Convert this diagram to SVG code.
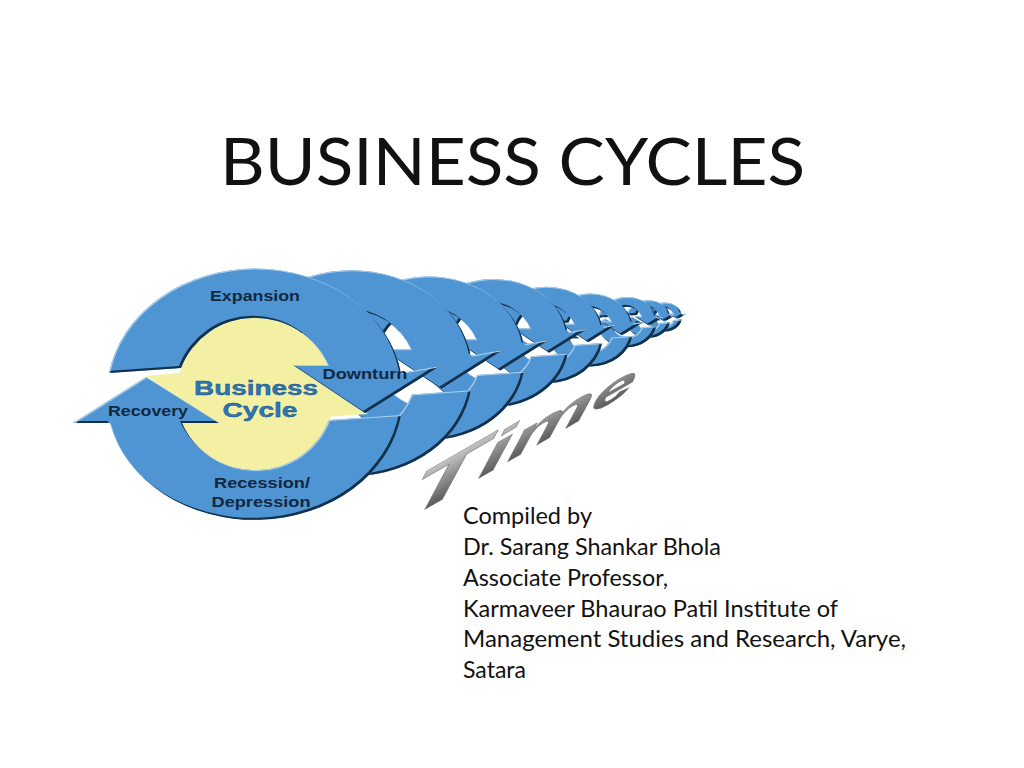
<svg xmlns="http://www.w3.org/2000/svg" width="1024" height="768" viewBox="0 0 1024 768">
<style>
.lb{font-family:"Liberation Sans",Arial,sans-serif;font-weight:700;fill:#12283f;font-size:15px;text-anchor:middle}
.bc{font-family:"Liberation Sans",Arial,sans-serif;font-weight:700;fill:#2b76b8;font-size:20px;text-anchor:middle;stroke:#1c4f80;stroke-width:.4px}
.body{font-family:Lato,"Liberation Sans",sans-serif;font-size:23.5px;fill:#111}
.arrow{fill:#4f95d3}
</style>
<defs>
<linearGradient id="g" x1="0" y1="0" x2="0" y2="1"><stop offset="0" stop-color="#e6e6e6"/><stop offset=".5" stop-color="#8d8d8d"/><stop offset="1" stop-color="#3d3d3d"/></linearGradient>
<filter id="bev" x="-5%" y="-5%" width="110%" height="110%" color-interpolation-filters="sRGB">
<feOffset in="SourceAlpha" dx="-1.8" dy="-1.8" result="o1"/>
<feComposite in="SourceAlpha" in2="o1" operator="out" result="e1"/>
<feFlood flood-color="#12304a"/><feComposite in2="e1" operator="in" result="dark"/>
<feOffset in="SourceAlpha" dx="1.3" dy="1.3" result="o2"/>
<feComposite in="SourceAlpha" in2="o2" operator="out" result="e2"/>
<feFlood flood-color="#a9cdea"/><feComposite in2="e2" operator="in" result="light"/>
<feMerge result="m"><feMergeNode in="SourceGraphic"/><feMergeNode in="dark"/><feMergeNode in="light"/></feMerge>
<feGaussianBlur in="m" stdDeviation=".5"/>
</filter>
<g id="arrows">
<path class="arrow" d="M109 373 A148 125 0 0 1 401 373 L440 366 L365 413 L293 365 L328 365 A79 77 0 0 0 181 368 Z"/>
<path class="arrow" d="M401 415 A148 123 0 0 1 110 423 L73 423 L146 377 L219 423 L182 423 A79 77 0 0 0 329 420 Z"/>
</g>
</defs>
<rect width="1024" height="768" fill="#fff"/>
<text id="title" x="220" y="185" textLength="585" lengthAdjust="spacingAndGlyphs" font-family="Lato,'Liberation Sans',sans-serif" font-size="66" fill="#111">BUSINESS CYCLES</text>

<g id="time-trail">
<g filter="url(#bev)"><use href="#arrows" transform="translate(635.1 271.3) scale(.116)"/></g>
<g filter="url(#bev)"><use href="#arrows" transform="translate(609.8 259.9) scale(.15)"/></g>
<g filter="url(#bev)"><use href="#arrows" transform="translate(576 243.2) scale(.2)"/></g>
<g filter="url(#bev)"><use href="#arrows" transform="translate(516 215.7) scale(.29)"/></g>
<g filter="url(#bev)"><use href="#arrows" transform="translate(447.8 183.3) scale(.385)"/></g>
<g filter="url(#bev)"><use href="#arrows" transform="translate(363 142) scale(.51)"/></g>
<g filter="url(#bev)"><use href="#arrows" transform="translate(263 102) scale(.65)"/></g>
<g filter="url(#bev)"><use href="#arrows" transform="translate(142 50) scale(.82)"/></g>
</g>

<g id="business-cycle">
<ellipse cx="255" cy="395" rx="79" ry="77" fill="#f3efa3"/>
<polygon points="146,376 293,362 368,414 219,424" fill="#f3efa3"/>
<g filter="url(#bev)"><use href="#arrows"/></g>
<text class="bc" x="256" y="395" textLength="124" lengthAdjust="spacingAndGlyphs">Business</text>
<text class="bc" x="260" y="417" textLength="75" lengthAdjust="spacingAndGlyphs">Cycle</text>
</g>
<g id="labels">
<text class="lb" x="255" y="301" textLength="90" lengthAdjust="spacingAndGlyphs">Expansion</text>
<text class="lb" x="365" y="379" textLength="85" lengthAdjust="spacingAndGlyphs">Downturn</text>
<text class="lb" x="148" y="416" textLength="80" lengthAdjust="spacingAndGlyphs">Recovery</text>
<text class="lb" x="262" y="488" textLength="96" lengthAdjust="spacingAndGlyphs">Recession/</text>
<text class="lb" x="261" y="507" textLength="99" lengthAdjust="spacingAndGlyphs">Depression</text>
</g>

<text id="time" transform="matrix(1.95 -1.12 -.3 1.05 403 522)" font-family="'Liberation Sans',Arial,sans-serif" font-weight="700" font-style="italic" fill="url(#g)" stroke="#777" stroke-width=".5"><tspan font-size="62">T</tspan><tspan font-size="54">i</tspan><tspan font-size="48">m</tspan><tspan font-size="40">e</tspan></text>

<g id="credit" class="body">
<text x="463" y="524" textLength="129" lengthAdjust="spacingAndGlyphs">Compiled by</text>
<text x="463" y="555" textLength="258" lengthAdjust="spacingAndGlyphs">Dr. Sarang Shankar Bhola</text>
<text x="463" y="586" textLength="205" lengthAdjust="spacingAndGlyphs">Associate Professor,</text>
<text x="463" y="617" textLength="375" lengthAdjust="spacingAndGlyphs">Karmaveer Bhaurao Patil Institute of</text>
<text x="463" y="647" textLength="443" lengthAdjust="spacingAndGlyphs">Management Studies and Research, Varye,</text>
<text x="463" y="678" textLength="63" lengthAdjust="spacingAndGlyphs">Satara</text>
</g>
</svg>
